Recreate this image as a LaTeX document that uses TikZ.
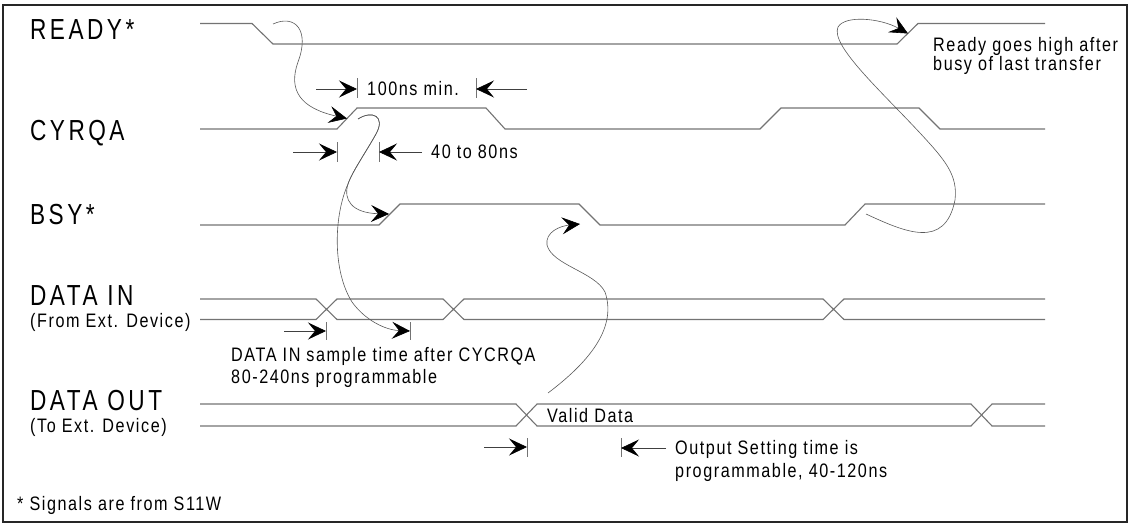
\documentclass[tikz,border=0pt]{standalone}
\usepackage{fontspec}
\setmainfont{Liberation Sans}
\newfontfamily\bigf[FakeStretch=0.78,LetterSpace=12]{Liberation Sans}
\newfontfamily\smallf[FakeStretch=0.83,LetterSpace=8]{Liberation Sans}
\usetikzlibrary{arrows.meta}
\begin{document}
\begin{tikzpicture}[x=1pt,y=-1pt,
  sig/.style={draw=black!55, line width=1.1pt},
  flow/.style={draw=black!65, line width=0.6pt, -{Stealth[length=18pt,width=17pt,inset=7pt,black]}},
  dimarrow/.style={draw=black!75, line width=0.7pt, -{Stealth[length=18pt,width=17pt,inset=7pt,black]}},
  tickline/.style={draw=black!55, line width=0.7pt},
  biglabel/.style={anchor=base west, inner sep=0pt, font=\bigf\fontsize{29}{32}\selectfont},
  smalllabel/.style={anchor=base west, inner sep=0pt, font=\smallf\fontsize{19.5}{22}\selectfont}]
\useasboundingbox (0,0) rectangle (1132,525);
\draw[line width=2pt, black!85] (2.5,5) rectangle (1127,521.5);

% signal labels
\node[biglabel] (lready) at (30,39) {READY*};
\node[biglabel] (lcyrqa) at (30,140) {CYRQA};
\node[biglabel] (lbsy) at (30,224) {BSY*};
\node[biglabel] (ldin) at (30,305) {DATA IN};
\node[smalllabel] (ldin2) at (30,327) {(From Ext. Device)};
\node[biglabel] (ldout) at (30,410) {DATA OUT};
\node[smalllabel] (ldout2) at (30,432) {(To Ext. Device)};

% waveforms
\draw[sig] (200,23.5) -- (252,23.5) -- (273,44) -- (897,44) -- (918,23.5) -- (1045,23.5);
\draw[sig] (200,129) -- (337,129) -- (357,108) -- (486,108) -- (505,129) -- (760,129) -- (781,108) -- (919,108) -- (940,129) -- (1045,129);
\draw[sig] (200,225) -- (379,225) -- (400,204) -- (579,204) -- (600,225) -- (845,225) -- (865,204) -- (1045,204);
\draw[sig] (200,299) -- (316,299) -- (337,319.5) -- (443,319.5) -- (464,299) -- (823,299) -- (844,319.5) -- (1045,319.5);
\draw[sig] (200,319.5) -- (316,319.5) -- (337,299) -- (443,299) -- (464,319.5) -- (823,319.5) -- (844,299) -- (1045,299);
\draw[sig] (200,404) -- (516,404) -- (537,426) -- (971,426) -- (992,404) -- (1045,404);
\draw[sig] (200,426) -- (516,426) -- (537,404) -- (971,404) -- (992,426) -- (1045,426);

% named points
\coordinate (c1s) at (273,24);
\coordinate (c1e) at (347,118.5);
\coordinate (c2s) at (358,119);
\coordinate (c2a) at (389,214);
\coordinate (c2b) at (410,331);
\coordinate (c3s) at (548,393);
\coordinate (c3e) at (580,224);
\coordinate (c4s) at (866,214);
\coordinate (c4e) at (908,33.5);

% cause/effect curves
\draw[flow] (c1s) .. controls (295,14) and (310,30) .. (298,62) .. controls (288,90) and (300,108) .. (c1e);
\draw[flow] (c2s) .. controls (372,110) and (386,116) .. (376,134) .. controls (366,152) and (352,172) .. (348,184) .. controls (343,200) and (352,213) .. (c2a);
\draw[flow] (c2s) .. controls (372,110) and (386,116) .. (376,134) .. controls (366,152) and (352,172) .. (348,184) .. controls (334,215) and (332,270) .. (352,302) .. controls (365,320) and (385,330) .. (c2b);
\draw[flow] (c3s) .. controls (585,365) and (618,330) .. (605,292) .. controls (595,272) and (552,265) .. (547,245) .. controls (545,232) and (560,226) .. (c3e);
\draw[flow] (c4s) .. controls (905,232) and (945,250) .. (955,200) .. controls (958,175) and (945,160) .. (920,133) .. controls (880,90) and (830,45) .. (838,27) .. controls (845,15) and (880,18) .. (c4e);

% 100ns min.
\coordinate (a1t) at (316,89);
\coordinate (a1h) at (357,89);
\draw[tickline] (357,78) -- (357,98);
\draw[dimarrow] (a1t) -- (a1h);
\node[smalllabel] (t100) at (367,95) {100ns min.};
\coordinate (a2t) at (527,89);
\coordinate (a2h) at (476,89);
\draw[tickline] (476,78) -- (476,98);
\draw[dimarrow] (a2t) -- (a2h);

% 40 to 80ns
\coordinate (a3t) at (293,152);
\coordinate (a3h) at (337,152);
\draw[tickline] (337,142) -- (337,162);
\draw[dimarrow] (a3t) -- (a3h);
\coordinate (a4t) at (422,152);
\coordinate (a4h) at (379,152);
\draw[tickline] (379,142) -- (379,162);
\draw[dimarrow] (a4t) -- (a4h);
\node[smalllabel] (t4080) at (431,158) {40 to 80ns};

% data in sample
\coordinate (a5t) at (284,331);
\coordinate (a5h) at (326,331);
\draw[tickline] (326,322) -- (326,340);
\draw[dimarrow] (a5t) -- (a5h);
\draw[tickline] (410,322) -- (410,340);
\node[smalllabel] (tsample1) at (231,361) {DATA IN sample time after CYCRQA};
\node[smalllabel] (tsample2) at (231,383) {80-240ns programmable};

% data out
\node[smalllabel] (tvalid) at (547,422) {Valid Data};
\coordinate (a6t) at (484,447);
\coordinate (a6h) at (527,447);
\draw[tickline] (527,438) -- (527,457);
\draw[dimarrow] (a6t) -- (a6h);
\coordinate (a7t) at (666,448);
\coordinate (a7h) at (621,448);
\draw[tickline] (621,438) -- (621,457);
\draw[dimarrow] (a7t) -- (a7h);
\node[smalllabel] (tout1) at (675,454) {Output Setting time is};
\node[smalllabel] (tout2) at (675,477) {programmable, 40-120ns};

% ready note
\node[smalllabel] (tready1) at (933,51) {Ready goes high after};
\node[smalllabel] (tready2) at (933,70) {busy of last transfer};

% footnote
\node[smalllabel] (tfoot) at (17,510) {* Signals are from S11W};
\end{tikzpicture}
\end{document}
